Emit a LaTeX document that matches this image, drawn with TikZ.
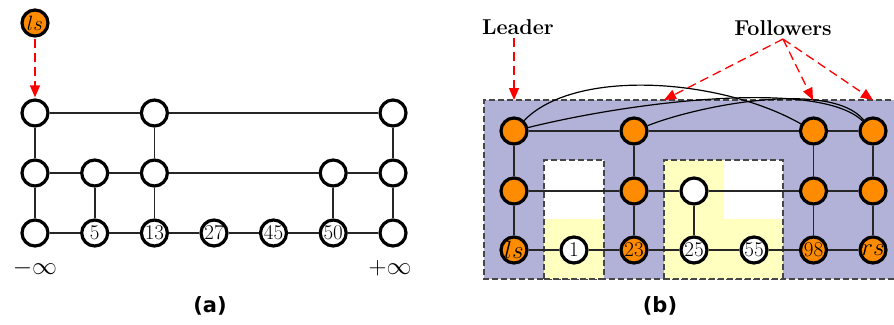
\documentclass[tikz,border=0pt]{standalone}
\usepackage{fontspec}
\newfontfamily\capfont{DejaVu Sans}
\usetikzlibrary{arrows.meta}
\definecolor{orng}{RGB}{255,140,0}
\definecolor{purp}{RGB}{178,178,217}
\definecolor{ylw}{RGB}{255,255,191}
\definecolor{dgray}{RGB}{70,70,70}
\tikzset{
  vtx/.style={circle,draw=black,line width=3.2pt,minimum size=26pt,inner sep=0pt,fill=white,font=\fontsize{21}{24}\selectfont},
  ovtx/.style={vtx,fill=orng},
  edge/.style={line width=1.8pt,draw=black!85},
  arcline/.style={line width=1.2pt,draw=black},
  redarr/.style={draw=red,line width=1.3pt,dash pattern=on 9pt off 5pt,-{Triangle[length=12pt,width=10pt]}},
  boxdash/.style={draw=dgray,line width=1.1pt,dash pattern=on 6pt off 3pt},
  lbl/.style={font=\fontsize{21.5}{24}\selectfont\bfseries},
  captxt/.style={font=\capfont\bfseries\fontsize{21}{24}\selectfont},
}
\begin{document}
\begin{tikzpicture}[x=1pt,y=-1pt]
\useasboundingbox (0,0) rectangle (894,324);
% ---------------- panel (a)
\foreach \i/\x in {0/35,1/94.7,2/154.4,3/214,4/273.5,5/333.2,6/393}{\coordinate (ac\i) at (\x,0);}
\node[ovtx,font=\fontsize{20}{22}\selectfont] (als) at (35,23) {$ls$};
\node[vtx] (at0) at (ac0 |- 0,113) {};
\node[vtx] (at2) at (ac2 |- 0,113) {};
\node[vtx] (at6) at (ac6 |- 0,113) {};
\node[vtx] (am0) at (ac0 |- 0,173) {};
\node[vtx] (am1) at (ac1 |- 0,173) {};
\node[vtx] (am2) at (ac2 |- 0,173) {};
\node[vtx] (am5) at (ac5 |- 0,173) {};
\node[vtx] (am6) at (ac6 |- 0,173) {};
\node[vtx] (ab0) at (ac0 |- 0,233) {};
\node[vtx] (ab1) at (ac1 |- 0,233) {5};
\node[vtx] (ab2) at (ac2 |- 0,233) {13};
\node[vtx] (ab3) at (ac3 |- 0,233) {27};
\node[vtx] (ab4) at (ac4 |- 0,233) {45};
\node[vtx] (ab5) at (ac5 |- 0,233) {50};
\node[vtx] (ab6) at (ac6 |- 0,233) {};
\draw[edge] (at0) -- (at2) -- (at6);
\draw[edge] (am0) -- (am1) -- (am2) -- (am5) -- (am6);
\draw[edge] (ab0) -- (ab1) -- (ab2) -- (ab3) -- (ab4) -- (ab5) -- (ab6);
\draw[edge] (at0) -- (am0) -- (ab0);
\draw[edge] (am1) -- (ab1);
\draw[edge] (at2) -- (am2) -- (ab2);
\draw[edge] (am5) -- (ab5);
\draw[edge] (at6) -- (am6) -- (ab6);
\draw[redarr,shorten <=1pt,shorten >=1pt] (als) -- (at0);
\node[font=\fontsize{24}{28}\selectfont] (minf) at (35,268) {$-\infty$};
\node[font=\fontsize{24}{28}\selectfont] (pinf) at (390,268) {$+\infty$};
\node[captxt] (capa) at (210,306) {(a)};
% ---------------- panel (b)
\fill[purp] (484,100) rectangle (900,279);
\draw[boxdash] (900,100) -- (484,100) -- (484,279) -- (900,279);
\fill[white] (544,160) rectangle (604,219);
\fill[ylw] (544,219) rectangle (604,279);
\fill[ylw] (664,160) rectangle (724,279);
\fill[white] (724,160) rectangle (783,219);
\fill[ylw] (724,219) rectangle (783,279);
\draw[boxdash] (544,279) -- (544,160) -- (604,160) -- (604,279);
\draw[boxdash] (664,279) -- (664,160) -- (783,160) -- (783,279);
\draw[boxdash] (544,279) -- (604,279) (664,279) -- (783,279);
\foreach \i/\x in {0/514,1/574,2/634,3/694,4/754,5/813.5,6/873}{\coordinate (bc\i) at (\x,0);}
\node[ovtx] (bt0) at (bc0 |- 0,131) {};
\node[ovtx] (bt2) at (bc2 |- 0,131) {};
\node[ovtx] (bt5) at (bc5 |- 0,131) {};
\node[ovtx] (bt6) at (bc6 |- 0,131) {};
\node[ovtx] (bm0) at (bc0 |- 0,191) {};
\node[ovtx] (bm2) at (bc2 |- 0,191) {};
\node[vtx]  (bm3) at (bc3 |- 0,191) {};
\node[ovtx] (bm5) at (bc5 |- 0,191) {};
\node[ovtx] (bm6) at (bc6 |- 0,191) {};
\node[ovtx,font=\fontsize{26}{30}\selectfont] (bb0) at (bc0 |- 0,250) {$ls$};
\node[vtx]  (bb1) at (bc1 |- 0,250) {1};
\node[ovtx] (bb2) at (bc2 |- 0,250) {23};
\node[vtx]  (bb3) at (bc3 |- 0,250) {25};
\node[vtx]  (bb4) at (bc4 |- 0,250) {55};
\node[ovtx] (bb5) at (bc5 |- 0,250) {98};
\node[ovtx,font=\fontsize{26}{30}\selectfont] (bb6) at (bc6 |- 0,250) {$rs$};
\draw[edge] (bt0) -- (bt2) -- (bt5) -- (bt6);
\draw[edge] (bm0) -- (bm2) -- (bm3) -- (bm5) -- (bm6);
\draw[edge] (bb0) -- (bb1) -- (bb2) -- (bb3) -- (bb4) -- (bb5) -- (bb6);
\draw[edge] (bt0) -- (bm0) -- (bb0);
\draw[edge] (bt2) -- (bm2) -- (bb2);
\draw[edge] (bm3) -- (bb3);
\draw[edge] (bt5) -- (bm5) -- (bb5);
\draw[edge] (bt6) -- (bm6) -- (bb6);
\draw[arcline] (bt0) .. controls (575,68) and (720,78) .. (bt5);
\draw[arcline] (bt0) .. controls (640,100) and (820,80) .. (bt6);
\draw[arcline] (bt2) .. controls (700,105) and (830,80) .. (bt6);
\node[lbl] (lead) at (518,27) {Leader};
\node[lbl] (foll) at (783,28) {Followers};
\coordinate (tl) at (514,100);
\coordinate (tf1) at (664,100);
\coordinate (tf2) at (813,100);
\coordinate (tf3) at (873,100);
\draw[redarr] (lead.south -| tl) -- (tl);
\draw[redarr] (foll.south) -- (tf1);
\draw[redarr] (foll.south) -- (tf2);
\draw[redarr] (foll.south) -- (tf3);
\node[captxt] (capb) at (660,306) {(b)};
\end{tikzpicture}
\end{document}
